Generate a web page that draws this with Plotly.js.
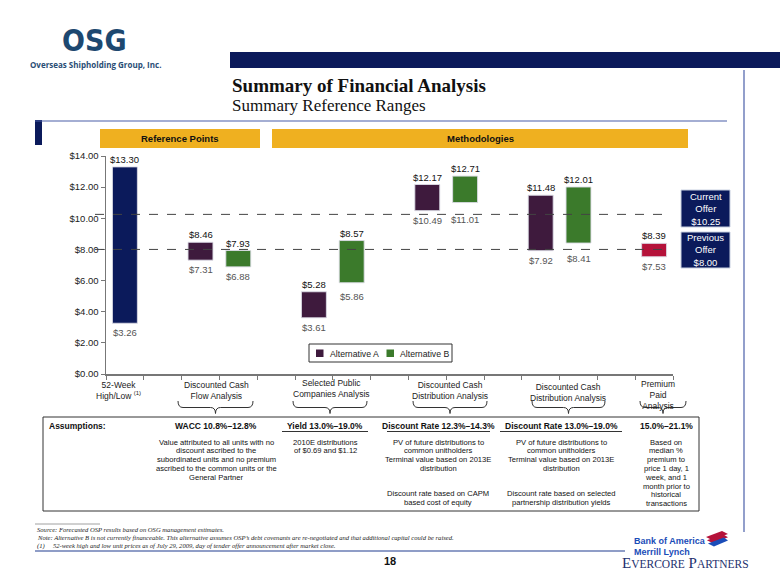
<!DOCTYPE html>
<html>
<head>
<meta charset="utf-8">
<script src="https://cdn.plot.ly/plotly-3.0.1.min.js"></script>
<style>html,body{margin:0;padding:0;background:#fff;}#chart{width:780px;height:585px;}</style>
</head>
<body>
<div id="chart"></div>
<script>
// ---------------- DATA ----------------
const categoryLabels = ['52-Week<br>High/Low <sup>(1)</sup>', 'Discounted Cash<br>Flow Analysis', 'Selected Public<br>Companies Analysis', 'Discounted Cash<br>Distribution Analysis', 'Discounted Cash<br>Distribution Analysis', 'Premium<br>Paid<br>Analysis'];
const weekLow = [3.26];
const weekHigh = [13.30];
const altALow = [7.31, 3.61, 10.49, 7.92];
const altAHigh = [8.46, 5.28, 12.17, 11.48];
const altBLow = [6.88, 5.86, 11.01, 8.41];
const altBHigh = [7.93, 8.57, 12.71, 12.01];
const premiumLow = [7.53];
const premiumHigh = [8.39];
const currentOffer = 10.25;
const previousOffer = 8.00;
const yTickValues = [0, 2, 4, 6, 8, 10, 12, 14];
const seriesNames = ['Alternative A', 'Alternative B'];
const assumptionHeaders = ['WACC 10.8%\u201312.8%', 'Yield 13.0%\u201319.0%', 'Discount Rate 12.3%\u201314.3%', 'Discount Rate 13.0%\u201319.0%', '15.0%\u201321.1%'];
const assumptionText = [
  ['Value attributed to all units with no', 'discount ascribed to the', 'subordinated units and no premium', 'ascribed to the common units or the', 'General Partner'],
  ['2010E distributions', 'of $0.69 and $1.12'],
  ['PV of future distributions to', 'common unitholders', 'Terminal value based on 2013E', 'distribution'],
  ['PV of future distributions to', 'common unitholders', 'Terminal value based on 2013E', 'distribution'],
  ['Based on', 'median %', 'premium to', 'price 1 day, 1', 'week, and 1', 'month prior to', 'historical', 'transactions']
];
const assumptionNotes = [[], [], ['Discount rate based on CAPM', 'based cost of equity'], ['Discount rate based on selected', 'partnership distribution yields'], []];
const footnotes = [
  'Source: Forecasted OSP results based on OSG management estimates.',
  'Note: Alternative B is not currently financeable. This alternative assumes OSP\u2019s debt covenants are re-negotiated and that additional capital could be raised.',
  '(1)&nbsp;&nbsp;&nbsp;&nbsp;&nbsp;52-week high and low unit prices as of July 29, 2009, day of tender offer announcement after market close.'
];

// ---------------- LAYOUT HELPERS ----------------
const SANS = 'Arial, "Liberation Sans", sans-serif';
const SERIF = '"Palatino Linotype", "Liberation Serif", "DejaVu Serif", serif';
const L = 106, R = 673, TOP = 156, BOT = 374;
function px(x) { return (x - L) / (R - L); }
function py(y) { return (BOT - y) / (BOT - TOP); }
function P(x, y) { return px(x) + ',' + py(y); }

const slotWeek = [0], slotA = [2, 5, 8, 11], slotB = [3, 6, 9, 12], slotPremium = [14];
const BW = 0.66;
const NAVY = '#0b1a5b', PURPLE = '#3e1a3d', GREEN = '#3b7a2b', RED = '#b5123a', GOLD = '#efb020';

function diff(h, l) { return h.map((v, i) => +(v - l[i]).toFixed(2)); }
function barTrace(xs, lo, hi, color, name) {
  return {type: 'bar', x: xs, y: diff(hi, lo), base: lo, width: BW, name: name, showlegend: false,
    marker: {color: color, line: {color: 'rgba(220,220,230,0.9)', width: 1}}, hoverinfo: 'skip'};
}
const traces = [
  barTrace(slotWeek, weekLow, weekHigh, NAVY, '52-Week'),
  barTrace(slotA, altALow, altAHigh, PURPLE, seriesNames[0]),
  barTrace(slotB, altBLow, altBHigh, GREEN, seriesNames[1]),
  barTrace(slotPremium, premiumLow, premiumHigh, RED, 'Premium')
];

const ann = [];
const shapes = [];
function T(x, y, text, size, o) {
  o = o || {};
  ann.push({xref: 'paper', yref: 'paper', x: px(x), y: py(y), text: text, showarrow: false,
    xanchor: o.xa || 'center', yanchor: o.ya || 'middle', align: o.align || 'center',
    font: {family: o.family || SANS, size: size, color: o.color || '#111'}});
}
function rect(x0, y0, x1, y1, fill, line, layer) {
  shapes.push({type: 'rect', xref: 'paper', yref: 'paper', x0: px(x0), x1: px(x1), y0: py(y0), y1: py(y1),
    fillcolor: fill, line: line || {width: 0}, layer: layer || 'below'});
}
function hline(x0, x1, y, color, w) {
  shapes.push({type: 'line', xref: 'paper', yref: 'paper', x0: px(x0), x1: px(x1), y0: py(y), y1: py(y), line: {color: color, width: w}});
}
function vline(x, y0, y1, color, w) {
  shapes.push({type: 'line', xref: 'paper', yref: 'paper', x0: px(x), x1: px(x), y0: py(y0), y1: py(y1), line: {color: color, width: w}});
}
function brace(x0, x1) {
  const xc = (x0 + x1) / 2, y0 = 401, ym = 407.5, yt = 413.5, r = 5;
  return 'M' + P(x0, y0) + ' Q' + P(x0, ym) + ' ' + P(x0 + r, ym) + ' L' + P(xc - r, ym) +
    ' Q' + P(xc, ym) + ' ' + P(xc, yt) + ' Q' + P(xc, ym) + ' ' + P(xc + r, ym) +
    ' L' + P(x1 - r, ym) + ' Q' + P(x1, ym) + ' ' + P(x1, y0);
}

// value labels from data (extra pixel drop for some low labels, as in the original)
function valueLabels(xs, lo, hi, lowShift) {
  xs.forEach((x, i) => {
    ann.push({xref: 'x', yref: 'y', x: x, y: hi[i], text: '$' + hi[i].toFixed(2), showarrow: false,
      yanchor: 'bottom', yshift: 0, font: {family: SANS, size: 9.5, color: '#111'}});
    ann.push({xref: 'x', yref: 'y', x: x, y: lo[i], text: '$' + lo[i].toFixed(2), showarrow: false,
      yanchor: 'top', yshift: -2 - (lowShift ? lowShift[i] : 0), font: {family: SANS, size: 9.5, color: '#555'}});
  });
}
valueLabels(slotWeek, weekLow, weekHigh);
valueLabels(slotA, altALow, altAHigh);
valueLabels(slotB, altBLow, altBHigh, [0, 4, 7, 6]);
valueLabels(slotPremium, premiumLow, premiumHigh);

// offer lines
[currentOffer, previousOffer].forEach(v => {
  shapes.push({type: 'line', xref: 'paper', yref: 'y', x0: px(95), x1: px(667), y0: v, y1: v,
    line: {color: '#444', width: 1, dash: 'dash'}, layer: 'above'});
});

// manual legend
rect(309, 344, 452, 362, '#fff', {color: '#333', width: 1}, 'above');
rect(316, 349.5, 323.5, 357, PURPLE, {width: 0}, 'above');
rect(386.5, 349.5, 394, 357, GREEN, {width: 0}, 'above');
T(328, 353.5, seriesNames[0], 8.7, {xa: 'left', color: '#222'});
T(398, 353.5, seriesNames[1], 8.7, {xa: 'left', color: '#222'});

// ---------- header area ----------
T(94, 40, '<b>OSG</b>', 30, {family: '"Liberation Sans Narrow", "DejaVu Sans Condensed", Arial, sans-serif', color: '#1d4870'});
T(95, 64.5, '<b>Overseas Shipholding Group, Inc.</b>', 8, {family: '"Open Sans", Arial, sans-serif', color: '#2a4d75'});
rect(230, 52, 780, 68, NAVY);
T(230, 86, '<b>Summary of Financial Analysis</b>', 19, {xa: 'left', family: SERIF, color: '#111'});
T(230, 105, 'Summary Reference Ranges', 17, {xa: 'left', family: SERIF, color: '#111'});

// frame
hline(35, 727, 121, '#4a5fa8', 1.2);
vline(744, 70, 532, '#4a5fa8', 1.2);
rect(35, 120, 42, 145, NAVY);

// section header boxes
rect(100, 129, 260, 148, GOLD);
rect(272, 129, 688, 148, GOLD);
T(180, 138.5, '<b>Reference Points</b>', 9.5);
T(480, 138.5, '<b>Methodologies</b>', 9.5);

// offer boxes
rect(681, 190, 730, 227, NAVY, {color: '#c8d0e0', width: 1});
rect(681, 232, 730, 268, NAVY, {color: '#c8d0e0', width: 1});
T(705.5, 208.5, 'Current<br>Offer<br>$' + currentOffer.toFixed(2), 9.5, {color: '#fff'});
T(705.5, 250, 'Previous<br>Offer<br>$' + previousOffer.toFixed(2), 9.5, {color: '#fff'});

// category labels & braces
const labelX = [118, 216, 331, 450, 568, 658];
const labelY = [390, 390, 388, 390, 392, 395];
categoryLabels.forEach((t, i) => T(labelX[i], labelY[i], t, 8.5, {color: '#222'}));
const braceSpans = [[178, 253], [293, 367], [413, 487], [532, 605], [640, 686]];
braceSpans.forEach(s => shapes.push({type: 'path', xref: 'paper', yref: 'paper', path: brace(s[0], s[1]), line: {color: '#333', width: 1}}));

// assumptions table
rect(43, 417, 699, 511, 'rgba(0,0,0,0)', {color: '#333', width: 1});
T(47, 426, '<b>Assumptions:</b>', 8.5, {xa: 'left'});
const colX = [216, 325, 438, 561, 666];
assumptionHeaders.forEach((h, i) => T(colX[i], 426, '<b>' + h + '</b>', 8.5));
hline(282, 368, 431.5, '#333', 1);
hline(387, 490, 431.5, '#333', 1);
hline(500, 622, 431.5, '#333', 1);
assumptionText.forEach((arr, i) => arr.forEach((s, j) => T(colX[i], 442 + j * 8.8, s, 7.6, {color: '#111'})));
assumptionNotes.forEach((arr, i) => arr.forEach((s, j) => T(colX[i], 493.5 + j * 8.8, s, 7.6, {color: '#111'})));

// footnotes
hline(35, 100, 524, '#888', 0.8);
footnotes.forEach((f, i) => T(35, 529.5 + i * 8.3, '<i>' + f + '</i>', 6.6, {xa: 'left', family: '"Liberation Serif", serif', color: '#222'}));
hline(35, 625, 551, '#6a7db5', 1.5);
T(390, 561, '<b>18</b>', 11);

// BofA / Evercore
T(632, 541, '<b>Bank of America</b>', 9, {xa: 'left', family: SANS, color: '#1a4cb8'});
T(632, 552, '<b>Merrill Lynch</b>', 9, {xa: 'left', family: SANS, color: '#1a4cb8'});
[[0, RED], [3.2, RED], [6.4, '#1a4cb8']].forEach(s => {
  const d = s[0];
  shapes.push({type: 'path', xref: 'paper', yref: 'paper', fillcolor: s[1], line: {width: 0},
    path: 'M' + P(706 + d * 0.3, 537 + d) + ' L' + P(722 + d * 0.3, 531 + d) + ' L' + P(728, 534 + d) + ' L' + P(712 + d * 0.3, 540 + d) + ' Z'});
});
T(620, 563, 'E<span style="font-size:11.5px">VERCORE</span> P<span style="font-size:11.5px">ARTNERS</span>', 15, {xa: 'left', family: '"Liberation Serif", serif', color: '#23306e'});

const layout = {
  width: 780, height: 585,
  margin: {l: L, r: 780 - R, t: TOP, b: 585 - BOT, pad: 0},
  paper_bgcolor: '#fff', plot_bgcolor: 'rgba(0,0,0,0)',
  barmode: 'overlay',
  showlegend: false,
  xaxis: {range: [-0.5, 14.5], tickmode: 'array', tickvals: Array.from({length: 16}, (_, i) => i - 0.5),
    showticklabels: false, ticks: 'outside', ticklen: 4, tickcolor: '#777', showline: true,
    linecolor: '#777', linewidth: 1.5, showgrid: false, zeroline: false, fixedrange: true},
  yaxis: {range: [0, 14], tickmode: 'array', tickvals: yTickValues, tickformat: '$.2f', ticks: 'outside',
    ticklen: 4, tickcolor: '#777', showline: true, linecolor: '#777', linewidth: 1.5, showgrid: false,
    zeroline: false, tickfont: {family: SANS, size: 9.5, color: '#222'}, fixedrange: true},
  shapes: shapes,
  annotations: ann
};
Plotly.newPlot('chart', traces, layout, {staticPlot: true, displayModeBar: false});
</script>
</body>
</html>
